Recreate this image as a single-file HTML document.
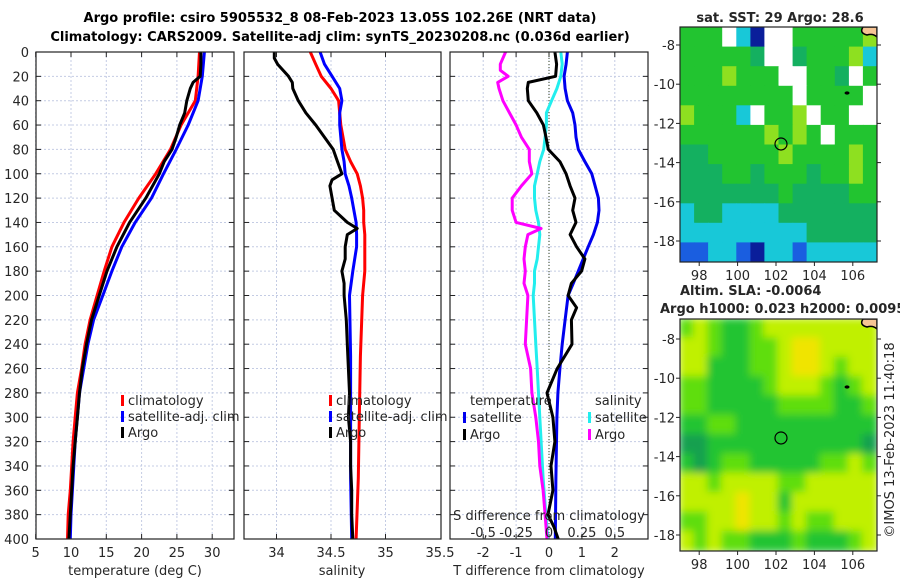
<!DOCTYPE html>
<html><head><meta charset="utf-8"><style>
html,body{margin:0;padding:0;background:#fff;}
svg{display:block;font-family:"DejaVu Sans","Liberation Sans",sans-serif;}
</style></head><body>
<svg id="c" width="900" height="580" viewBox="0 0 900 580" xmlns="http://www.w3.org/2000/svg">
<defs><filter id="blur" x="0" y="0" width="1" height="1"><feGaussianBlur stdDeviation="4"/></filter>
<clipPath id="clipTop"><rect x="680" y="27" width="197" height="235"/></clipPath>
<clipPath id="clipBot"><rect x="680" y="319" width="197" height="232"/></clipPath></defs>
<text x="340" y="22" text-anchor="middle" font-size="13" font-weight="bold">Argo profile: csiro 5905532_8 08-Feb-2023 13.05S 102.26E (NRT data)</text>
<text x="340" y="41" text-anchor="middle" font-size="13" font-weight="bold">Climatology: CARS2009. Satellite-adj clim: synTS_20230208.nc (0.036d earlier)</text>
<g id="g"></g>
</svg>
<script>
// ---- data ----
const depthTicks = [0,20,40,60,80,100,120,140,160,180,200,220,240,260,280,300,320,340,360,380,400];
const tempTicks = [5,10,15,20,25,30];
const salTicks = [34,34.5,35,35.5];
const salTickLabels = ["34","34.5","35","35.5"];
const tdiffTicks = [-2,-1,0,1,2];
const sdiffTicks = [-0.5,-0.25,0,0.25,0.5];
const sdiffTickLabels = ["-0,5","-0.25","0","0.25","0.5"];

const D1 = [0,20,40,60,80,100,120,140,160,180,200,220,240,260,280,300,320,340,360,380,400];
const tClim = [28.2,28.0,27.6,25.6,24.1,22.0,19.6,17.5,15.8,14.7,13.7,12.7,12.0,11.5,10.9,10.6,10.3,10.1,9.9,9.6,9.5];
const tSat = [28.9,28.6,28.0,26.6,24.9,23.1,21.4,19.1,17.2,15.8,14.5,13.2,12.4,11.8,11.2,10.9,10.6,10.4,10.2,10.0,9.9];
const D1A = [0,10,20,25,30,40,50,60,70,80,90,100,120,140,160,180,200,220,240,260,280,300,320,340,360,380,400];
const tArgo = [28.4,28.4,28.3,27.3,26.9,26.4,26.1,25.4,24.9,24.3,23.2,22.5,20.6,18.3,16.5,15.1,14.0,12.9,12.2,11.6,11.2,10.9,10.6,10.3,10.1,9.9,9.7];

const D2 = [0,10,20,30,40,50,60,70,80,90,100,110,120,130,140,150,160,180,200,250,300,350,400];
const sClim = [34.31,34.36,34.41,34.50,34.57,34.58,34.59,34.61,34.63,34.68,34.74,34.77,34.79,34.80,34.80,34.81,34.81,34.81,34.79,34.77,34.76,34.75,34.73];
const sSat = [34.40,34.44,34.51,34.58,34.60,34.58,34.58,34.59,34.60,34.62,34.63,34.665,34.69,34.71,34.73,34.735,34.735,34.70,34.67,34.68,34.68,34.68,34.69];
const D2A = [0,5,10,20,25,30,40,50,60,70,80,90,100,105,110,120,130,140,145,150,160,170,180,190,200,220,240,260,280,300,320,340,360,380,400];
const sArgo = [33.98,33.98,34.01,34.11,34.145,34.15,34.20,34.27,34.36,34.44,34.52,34.56,34.60,34.51,34.49,34.51,34.53,34.65,34.74,34.65,34.63,34.63,34.60,34.62,34.62,34.64,34.65,34.66,34.67,34.66,34.68,34.68,34.69,34.69,34.70];

const D3 = [0,10,20,30,40,50,60,70,80,90,100,110,120,130,140,150,160,170,180,190,200,220,240,260,280,300,350,400];
const dTsat = [0.56,0.52,0.46,0.49,0.56,0.72,0.79,0.82,0.89,1.09,1.30,1.40,1.50,1.52,1.47,1.35,1.19,1.04,0.89,0.74,0.58,0.49,0.40,0.33,0.27,0.24,0.21,0.19];
const dSsat = [0.09,0.10,0.09,0.06,0.02,-0.02,-0.02,-0.03,-0.04,-0.07,-0.09,-0.11,-0.11,-0.10,-0.08,-0.07,-0.08,-0.09,-0.11,-0.11,-0.12,-0.11,-0.10,-0.09,-0.08,-0.07,-0.045,-0.01];
const D3A = [0,10,20,25,30,40,50,60,70,80,90,100,110,120,130,140,150,160,170,180,190,200,210,220,240,260,280,300,320,340,360,380,390,400];
const dTargo = [0.18,0.23,0.20,-0.63,-0.66,-0.63,-0.37,-0.17,-0.09,-0.02,0.33,0.52,0.64,0.79,0.72,0.82,0.64,0.84,1.09,0.99,0.68,0.58,0.84,0.68,0.70,0.25,-0.06,0.12,0.18,0.06,0.12,-0.03,0.15,0.28];
const D3B = [0,10,15,20,25,30,40,50,60,70,80,90,100,110,120,130,140,145,150,160,170,180,190,200,220,240,260,280,300,320,340,360,380,400];
const dSargo = [-0.33,-0.37,-0.37,-0.31,-0.39,-0.38,-0.35,-0.30,-0.25,-0.21,-0.15,-0.15,-0.13,-0.21,-0.28,-0.28,-0.25,-0.06,-0.16,-0.18,-0.19,-0.18,-0.19,-0.16,-0.17,-0.18,-0.14,-0.13,-0.10,-0.08,-0.07,-0.045,-0.03,-0.015];

const lonTicks = [98,100,102,104,106];
const latTicks = [-8,-10,-12,-14,-16,-18];
const argoLon = 102.26, argoLat = -13.05;
const sstGrid = [
[5,5,5,0,3,1,0,0,5,5,5,5,5,6],
[5,5,5,5,5,4,0,0,4,5,5,5,6,3],
[5,5,5,6,5,5,5,0,0,5,5,4,0,5],
[5,5,5,5,5,5,5,5,0,5,5,5,5,0],
[6,5,5,5,3,0,5,5,6,0,5,5,0,0],
[5,5,5,5,5,5,6,5,6,5,0,5,5,5],
[4,4,5,5,5,5,5,6,5,5,5,5,6,5],
[4,4,4,5,5,4,5,5,5,4,5,5,6,5],
[4,4,4,4,4,4,4,5,4,4,4,4,5,5],
[3,4,4,3,3,3,3,4,4,4,4,4,4,4],
[3,3,3,3,3,3,3,3,3,4,4,4,4,4],
[2,2,3,3,2,1,3,3,2,3,3,3,3,3]];
const slaGrid = [
[2,3,2,1,1,2,3,3,3,3,3,3,3,3],
[3,3,2,1,1,2,2,3,4,4,3,3,3,3],
[3,3,1,1,1,2,2,3,4,4,3,2,3,3],
[2,2,1,1,1,1,2,3,3,3,2,1,2,3],
[2,2,1,1,1,1,1,2,2,2,2,1,1,2],
[1,1,2,2,1,1,1,1,1,1,1,1,1,1],
[0,0,1,1,1,1,1,1,1,1,1,1,1,0],
[1,0,1,2,2,1,1,1,1,1,2,2,3,2],
[3,3,2,3,3,3,3,2,2,3,3,3,3,3],
[3,3,3,3,4,3,3,1,3,3,3,3,3,3],
[2,2,3,3,4,3,3,2,3,2,2,3,3,3],
[3,2,3,2,2,1,1,1,2,1,1,1,2,3]];
const sstColors = ["#ffffff","#0a1e9a","#1a5ee0","#18c8d8","#14b060","#22c430","#8ee020"];
const slaColors = ["#12a050","#22c432","#5ede08","#c0f000","#f0e400"];

// ---- helpers ----
const NS="http://www.w3.org/2000/svg";
const G=document.getElementById('g');
function el(tag,attrs,parent){const e=document.createElementNS(NS,tag);for(const k in attrs)e.setAttribute(k,attrs[k]);(parent||G).appendChild(e);return e;}
function txt(x,y,s,size,anchor,parent){const t=el('text',{x:x,y:y,'font-size':size||13,'text-anchor':anchor||'middle',fill:'#262626'},parent);t.textContent=s;return t;}

const TOP=52,BOT=539;
const yD=d=>TOP+(BOT-TOP)*d/400;
const P1={x0:36,x1:234}, P2={x0:244,x1:441}, P3={x0:450,x1:648};
const xT=v=>35.7+(v-5)*7.06;
const xS=v=>276.5+(v-34)*109;
const xdT=v=>549+v*32.9;
const xdS=v=>549+v*131.6;

function panel(P,name,vgrid,labelsLeft){
  const g=el('g',{});
  
  
  el('rect',{x:P.x0,y:TOP,width:P.x1-P.x0,height:BOT-TOP,fill:'#fff'},g);
  depthTicks.forEach(d=>{
    if(d>0&&d<400) el('line',{x1:P.x0,x2:P.x1,y1:yD(d),y2:yD(d),stroke:'#c4cce4','stroke-width':1,'stroke-dasharray':'2,2'},g);
    el('line',{x1:P.x0,x2:P.x0+5,y1:yD(d),y2:yD(d),stroke:'#222'},g);
    el('line',{x1:P.x1-5,x2:P.x1,y1:yD(d),y2:yD(d),stroke:'#222'},g);
    if(labelsLeft){const t=txt(29,yD(d)+5,String(d),13,'end',g);
      
      }
  });
  vgrid.forEach(x=>{
    el('line',{x1:x,x2:x,y1:TOP,y2:BOT,stroke:'#c4cce4','stroke-width':1,'stroke-dasharray':'2,2'},g);
    el('line',{x1:x,x2:x,y1:BOT-5,y2:BOT,stroke:'#222'},g);
    el('line',{x1:x,x2:x,y1:TOP,y2:TOP+5,stroke:'#222'},g);
  });
  return g;
}
function curve(g,depths,vals,xf,color,name){
  const pts=depths.map((d,i)=>xf(vals[i]).toFixed(1)+','+yD(d).toFixed(1)).join(' ');
  const p=el('polyline',{points:pts,fill:'none',stroke:color,'stroke-width':3,'stroke-linejoin':'round'},g);
  
  
}
function frame(P,g){el('rect',{x:P.x0,y:TOP,width:P.x1-P.x0,height:BOT-TOP,fill:'none',stroke:'#222','stroke-width':1.2},g);}
function legItem(g,x,y,color,label,name){
  el('rect',{x:x,y:y-10,width:3,height:11,fill:color},g);
  const t=txt(x+7,y,label,13,'start',g);
  
  
}

// Panel 1
const g1=panel(P1,'temperature-panel',tempTicks.map(xT),true);
curve(g1,D1,tClim,xT,'#ff0000','temp-climatology-line');
curve(g1,D1,tSat,xT,'#0000ff','temp-satellite-line');
curve(g1,D1A,tArgo,xT,'#000000','temp-argo-line');
frame(P1,g1);
tempTicks.forEach(v=>txt(xT(v),557,String(v),13,'middle',g1));
txt(135,575,'temperature (deg C)',13,'middle',g1);
legItem(g1,121,405,'#ff0000','climatology','legend-climatology');
legItem(g1,121,421,'#0000ff','satellite-adj. clim','legend-satellite-adj');
legItem(g1,121,437,'#000000','Argo','legend-argo');

// Panel 2
const g2=panel(P2,'salinity-panel',salTicks.slice(0,3).map(xS),false);
curve(g2,D2,sClim,xS,'#ff0000','sal-climatology-line');
curve(g2,D2,sSat,xS,'#0000ff','sal-satellite-line');
curve(g2,D2A,sArgo,xS,'#000000','sal-argo-line');
frame(P2,g2);
salTicks.forEach((v,i)=>txt(xS(v),557,salTickLabels[i],13,'middle',g2));
txt(342,575,'salinity',13,'middle',g2);
legItem(g2,329,405,'#ff0000','climatology','legend2-climatology');
legItem(g2,329,421,'#0000ff','satellite-adj. clim','legend2-satellite-adj');
legItem(g2,329,437,'#000000','Argo','legend2-argo');

// Panel 3
const g3=panel(P3,'difference-panel',tdiffTicks.map(xdT),false);
el('line',{x1:549,x2:549,y1:TOP,y2:BOT,stroke:'#304020','stroke-width':1,'stroke-dasharray':'1,2'},g3);
curve(g3,D3,dTsat,xdT,'#0000ee','tdiff-satellite-line');
curve(g3,D3,dSsat,xdS,'#22eeee','sdiff-satellite-line');
curve(g3,D3B,dSargo,xdS,'#ff00ff','sdiff-argo-line');
curve(g3,D3A,dTargo,xdT,'#000000','tdiff-argo-line');
frame(P3,g3);
tdiffTicks.forEach(v=>txt(xdT(v),557,String(v),13,'middle',g3));
txt(549,575,'T difference from climatology',13,'middle',g3);
txt(549,520,'S difference from climatology',13,'middle',g3);
sdiffTicks.forEach((v,i)=>txt(xdS(v),537,sdiffTickLabels[i],13,'middle',g3));
txt(470,405,'temperature',13,'start',g3);
txt(595,405,'salinity',13,'start',g3);
legItem(g3,463,422,'#0000ee','satellite','legend-t-satellite');
legItem(g3,463,439,'#000000','Argo','legend-t-argo');
legItem(g3,588,422,'#22eeee','satellite','legend-s-satellite');
legItem(g3,588,439,'#ff00ff','Argo','legend-s-argo');

// Maps
function map(box,grid,colors,name,clip,blur){
  const g=el('g',{});
  
  
  const lonX=v=>box.x0+(v-97)*19.2;
  const latY=v=>box.yref+(-8-v)*19.6;
  const inner=el('g',{'clip-path':'url(#'+clip+')'},g);
  const cells=el('g',blur?{filter:'url(#blur)'}:{},inner);
  const rows=grid.length, cols=grid[0].length;
  const cw=(box.x1-box.x0)/cols, ch=(box.y1-box.y0)/rows;
  grid.forEach((row,r)=>row.forEach((v,c)=>{
    const rc=el('rect',{x:(box.x0+c*cw-(blur?1:0)).toFixed(1),y:(box.y0+r*ch-(blur?1:0)).toFixed(1),width:(cw+(blur?2:0.6)).toFixed(1),height:(ch+(blur?2:0.6)).toFixed(1),fill:colors[v]},cells);
    
    
  }));
  el('path',{d:`M${box.x1-14},${box.y0} q-4,6 4,8 q6,-2 10,2 L${box.x1},${box.y0} Z`,fill:'#f6c494',stroke:'#000','stroke-width':1.5},inner);
  el('ellipse',{cx:lonX(105.7),cy:latY(-10.45),rx:2.5,ry:1.6,fill:'#000'},inner);
  const circ=el('circle',{cx:lonX(argoLon),cy:latY(argoLat),r:6,fill:'none',stroke:'#000','stroke-width':1.2},g);
  
  
  el('rect',{x:box.x0,y:box.y0,width:box.x1-box.x0,height:box.y1-box.y0,fill:'none',stroke:'#222','stroke-width':1.2},g);
  lonTicks.forEach(v=>{el('line',{x1:lonX(v),x2:lonX(v),y1:box.y1,y2:box.y1+4,stroke:'#222'},g);txt(lonX(v),box.y1+18,String(v),13,'middle',g);});
  latTicks.forEach(v=>{el('line',{x1:box.x0-4,x2:box.x0,y1:latY(v),y2:latY(v),stroke:'#222'},g);el('line',{x1:box.x1,x2:box.x1+4,y1:latY(v),y2:latY(v),stroke:'#222'},g);txt(box.x0-5,latY(v)+5,String(v),13,'end',g);});
}
map({x0:680,x1:877,y0:27,y1:262,yref:45},sstGrid,sstColors,'sst-map','clipTop',false);
map({x0:680,x1:877,y0:319,y1:551,yref:339},slaGrid,slaColors,'sla-map','clipBot',true);
const t1=txt(780,22,'sat. SST: 29 Argo: 28.6',13,'middle');t1.setAttribute('font-weight','bold');


const t2=txt(680,295,'Altim. SLA: -0.0064',13,'start');t2.setAttribute('font-weight','bold');


const t3=txt(660,313,'Argo h1000: 0.023 h2000: 0.0095',13,'start');t3.setAttribute('font-weight','bold');


const t4=txt(0,0,'©IMOS 13-Feb-2023 11:40:18',13,'middle');t4.setAttribute('transform','translate(894,440) rotate(-90)');


</script>
</body></html>
